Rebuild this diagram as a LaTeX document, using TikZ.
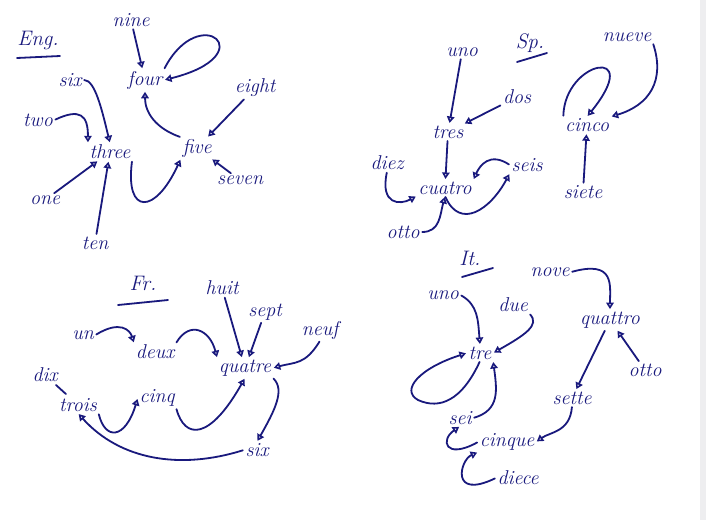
\documentclass[tikz,border=0pt]{standalone}
\usepackage{tikz}
\usetikzlibrary{arrows.meta}
\usepackage{xcolor}
\definecolor{penink}{RGB}{25,25,125}
\definecolor{penedge}{RGB}{238,238,240}

\begin{document}
\begin{tikzpicture}[
  x=1pt, y=-1pt,
  word/.style={text=penink, font=\fontsize{20}{22}\selectfont\itshape, inner sep=1.5pt},
  head/.style={word, font=\fontsize{21}{23}\selectfont\itshape},
  pen/.style={penink, line width=1.8pt, line cap=round},
  link/.style={pen, -{Triangle[open, length=6.5pt, width=7.5pt]}, shorten >=1pt, shorten <=1pt},
]
  \useasboundingbox (0,0) rectangle (706,520);
  \fill[white] (0,0) rectangle (706,520);
  \fill[penedge] (700,0) rectangle (706,520);

  % English
  \node[head] (eng) at (38,40) {Eng.};
  \draw[pen] (17,58) -- (60,56);
  \node[word] (en1) at (45,200) {one};
  \node[word] (en2) at (38,120) {two};
  \node[word] (en3) at (110,152) {three};
  \node[word] (en4) at (145,80) {four};
  \node[word] (en5) at (197,148) {five};
  \node[word] (en6) at (70,80) {six};
  \node[word] (en7) at (240,180) {seven};
  \node[word] (en8) at (255,88) {eight};
  \node[word] (en9) at (131,20) {nine};
  \node[word] (en10) at (95,243) {ten};

  \draw[link] (en9) -- (en4);
  \draw[link] (en4.north east) .. controls (200,0) and (265,55) .. (en4.east);
  \draw[link] (en5.north west) .. controls (155,128) and (145,112) .. (en4.south);
  \draw[link] (en8) -- (en5);
  \draw[link] (en7) -- (en5);
  \draw[link] (en6.east) .. controls (95,80) and (102,110) .. (en3.north);
  \draw[link] (en2.east) .. controls (80,108) and (88,115) .. (en3.north west);
  \draw[link] (en1) -- (en3);
  \draw[link] (en10) -- (en3);
  \draw[link] (en3.south east) .. controls (125,215) and (155,215) .. (en5.south west);

  % Spanish
  \node[head] (sp) at (530,43) {Sp.};
  \draw[pen] (517,62) -- (547,53);
  \node[word] (sp1) at (462,52) {uno};
  \node[word] (sp2) at (517,97) {dos};
  \node[word] (sp3) at (448,132) {tres};
  \node[word] (sp4) at (445,188) {cuatro};
  \node[word] (sp5) at (587,125) {cinco};
  \node[word] (sp6) at (527,165) {seis};
  \node[word] (sp7) at (583,192) {siete};
  \node[word] (sp8) at (403,232) {otto};
  \node[word] (sp9) at (627,37) {nueve};
  \node[word] (sp10) at (387,163) {diez};

  \draw[link] (sp1) -- (sp3);
  \draw[link] (sp2) -- (sp3);
  \draw[link] (sp3) -- (sp4);
  \draw[link] (sp6.west) .. controls (490,152) and (480,165) .. (sp4.north east);
  \draw[link] (sp4.south) .. controls (460,230) and (490,210) .. (sp6.south west);
  \draw[link] (sp10.south) .. controls (380,205) and (400,205) .. (sp4.south west);
  \draw[link] (sp8.east) .. controls (440,232) and (440,215) .. (sp4.south);
  \draw[link] (sp7) -- (sp5);
  \draw[link] (sp5.north west) .. controls (565,60) and (645,45) .. (sp5.north);
  \draw[link] (sp9.south east) .. controls (665,80) and (650,105) .. (sp5.north east);

  % French
  \node[head] (fr) at (143,283) {Fr.};
  \draw[pen] (118,305) -- (168,300);
  \node[word] (fr1) at (83,335) {un};
  \node[word] (fr2) at (155,352) {deux};
  \node[word] (fr3) at (78,405) {trois};
  \node[word] (fr4) at (245,368) {quatre};
  \node[word] (fr5) at (157,398) {cinq};
  \node[word] (fr6) at (257,450) {six};
  \node[word] (fr7) at (265,312) {sept};
  \node[word] (fr8) at (222,288) {huit};
  \node[word] (fr9) at (320,330) {neuf};
  \node[word] (fr10) at (45,375) {dix};

  \draw[link] (fr1.east) .. controls (120,320) and (130,330) .. (fr2.north west);
  \draw[link] (fr2.north east) .. controls (190,320) and (210,330) .. (fr4.north west);
  \draw[link] (fr8) -- (fr4);
  \draw[link] (fr7) -- (fr4);
  \draw[link] (fr9.south) .. controls (305,365) and (295,362) .. (fr4.east);
  \draw[link] (fr4.south east) .. controls (285,390) and (275,410) .. (fr6.north);
  \draw[link] (fr3.south east) .. controls (105,440) and (125,440) .. (fr5.west);
  \draw[link] (fr5.south east) .. controls (185,440) and (210,440) .. (fr4.south);
  \draw[link] (fr6.west) .. controls (180,470) and (120,460) .. (fr3.south);
  \draw[pen, shorten <=2pt, shorten >=4pt] (fr10) -- (fr3);

  % Italian
  \node[head] (it) at (470,258) {It.};
  \draw[pen] (462,277) -- (493,268);
  \node[word] (it1) at (443,295) {uno};
  \node[word] (it2) at (513,305) {due};
  \node[word] (it3) at (480,353) {tre};
  \node[word] (it4) at (610,320) {quattro};
  \node[word] (it5) at (507,442) {cinque};
  \node[word] (it6) at (460,418) {sei};
  \node[word] (it7) at (572,398) {sette};
  \node[word] (it8) at (645,370) {otto};
  \node[word] (it9) at (550,272) {nove};
  \node[word] (it10) at (518,478) {diece};
  \coordinate (itloop) at (418,400);

  \draw[link] (it9.east) .. controls (615,260) and (610,285) .. (it4.north);
  \draw[link] (it1.east) .. controls (478,305) and (478,320) .. (it3.north);
  \draw[link] (it2.south east) .. controls (540,325) and (525,335) .. (it3.east);
  \draw[link] (it4) -- (it7);
  \draw[link] (it8) -- (it4);
  \draw[link] (it3.south) .. controls (462,400) and (440,410) .. (itloop)
                          .. controls (400,390) and (420,368) .. (it3.west);
  \draw[link] (it6.east) .. controls (500,410) and (497,390) .. (it3.south east);
  \draw[link] (it7.south) .. controls (570,432) and (550,432) .. (it5.east);
  \draw[link] (it5.west) .. controls (445,460) and (440,440) .. (it6.south);
  \draw[link] (it10.west) .. controls (450,500) and (460,460) .. (it5.south west);
\end{tikzpicture}
\end{document}
